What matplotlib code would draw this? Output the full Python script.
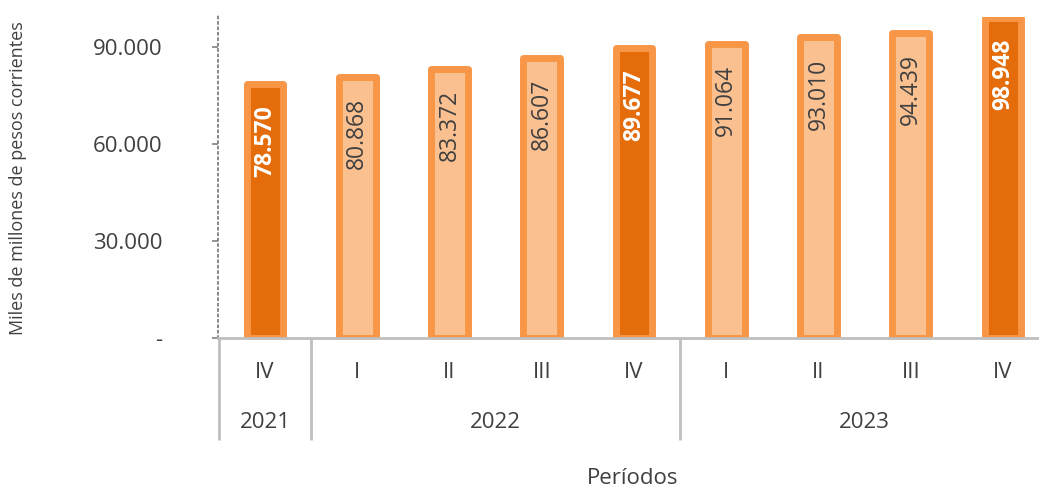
import matplotlib
matplotlib.use("Agg")
import matplotlib.pyplot as plt
import matplotlib.transforms as mtransforms

# ---- data ----
quarters = ["IV", "I", "II", "III", "IV", "I", "II", "III", "IV"]
years = ["2021", "2022", "2022", "2022", "2022", "2023", "2023", "2023", "2023"]
values = [78570, 80868, 83372, 86607, 89677, 91064, 93010, 94439, 98948]
labels = ["78.570", "80.868", "83.372", "86.607", "89.677",
          "91.064", "93.010", "94.439", "98.948"]
yticks = [0, 30000, 60000, 90000]
ytick_labels = ["-", "30.000", "60.000", "90.000"]

# ---- style ----
plt.rcParams['font.family'] = ['Open Sans', 'DejaVu Sans']
DARK = "#E46C0A"
LIGHT = "#FAC090"
EDGE = "#F79646"
TXT = "#404040"
GRID = "#BFBFBF"

W, H = 1039, 487
fig = plt.figure(figsize=(W / 100, H / 100), dpi=100)
ax_left, ax_right = 218 / W, 1.0
ax_bottom, ax_top = 1 - 338 / H, 1 - 16.5 / H
ax = fig.add_axes([ax_left, ax_bottom, ax_right - ax_left, ax_top - ax_bottom])

x = list(range(len(values)))
fills = [DARK if q == "IV" else LIGHT for q in quarters]
bars = ax.bar(x, values, width=0.40, color=fills, edgecolor=EDGE,
              linewidth=5.0, joinstyle='round', zorder=2)

# value labels inside bars
for xi, v, lab, f in zip(x, values, labels, fills):
    dark = f == DARK
    ax.annotate(lab, xy=(xi, v), xytext=(0, -15), textcoords='offset points',
                rotation=90, ha='center', va='top', fontsize=16.5,
                color='white' if dark else TXT,
                fontweight='bold' if dark else 'normal', zorder=3)

ax.set_xlim(-0.51, 8.39)
ax.set_ylim(0, 99500)

# y axis
ax.set_yticks(yticks)
ax.set_yticklabels(ytick_labels)
ax.tick_params(axis='y', direction='out', length=4, width=1.2, color='#808080',
               pad=36, labelsize=16, labelcolor=TXT)
for t in ax.yaxis.get_ticklines():
    t.set_linestyle(':')
ax.spines['left'].set_linestyle((0, (1, 2)))
ax.spines['left'].set_color('#7F7F7F')
ax.spines['left'].set_linewidth(1.3)
ax.spines['top'].set_visible(False)
ax.spines['right'].set_visible(False)
ax.spines['bottom'].set_color(GRID)
ax.spines['bottom'].set_linewidth(2)

# x axis: multi-level categories
ax.set_xticks([])
trans = mtransforms.blended_transform_factory(ax.transData, ax.transAxes)
ax_h_px = 338 - 16.5
q_y = -34 / ax_h_px
y_y = -84 / ax_h_px
sep_y = -102 / ax_h_px
for xi, q in zip(x, quarters):
    ax.text(xi, q_y, q, transform=trans, ha='center', va='center',
            fontsize=16, color=TXT)

# group years
groups = []
for xi, yr in zip(x, years):
    if groups and groups[-1][0] == yr:
        groups[-1][2] = xi
    else:
        groups.append([yr, xi, xi])
for yr, a, b in groups:
    ax.text((a + b) / 2, y_y, yr, transform=trans, ha='center', va='center',
            fontsize=16, color=TXT)
    ax.plot([a - 0.5, a - 0.5], [0, sep_y], transform=trans, color=GRID,
            lw=2, clip_on=False, solid_capstyle='butt')
last = groups[-1][2]
ax.plot([last + 0.5, last + 0.5], [0, sep_y], transform=trans, color=GRID,
        lw=2, clip_on=False, solid_capstyle='butt')

fig.text(633 / W, 1 - 478 / H, "Períodos", ha='center', va='center',
         fontsize=16, color=TXT)
fig.text(18 / W, 1 - 178 / H, "Miles de millones de pesos corrientes",
         rotation=90, ha='center', va='center', fontsize=13, color=TXT)

fig.savefig("out.png", dpi=100)
